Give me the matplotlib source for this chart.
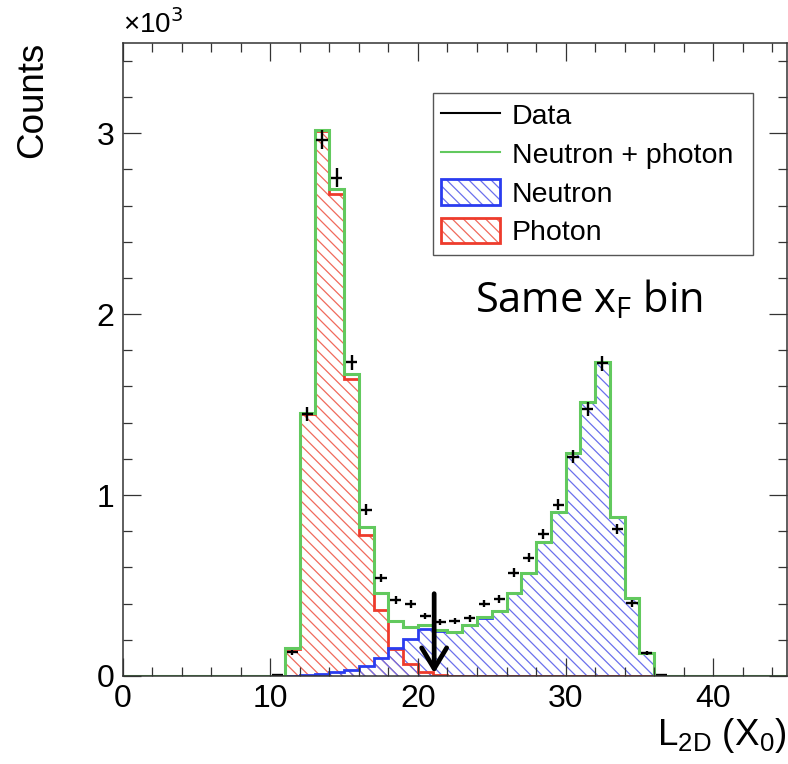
import numpy as np
import matplotlib.pyplot as plt
from matplotlib.lines import Line2D
from matplotlib.patches import Patch
from matplotlib.ticker import MultipleLocator, FuncFormatter

plt.rcParams['font.family'] = ['Liberation Sans', 'DejaVu Sans']
plt.rcParams['hatch.linewidth'] = 0.9

# Histogram values (bins of width 1 in L2D, X0 units)
first_bin = 11
photon = [150, 1450, 3010, 2664, 1641, 780, 365, 150, 68, 22, 5,
          0, 0, 0, 0, 0, 0, 0, 0, 0, 0, 0, 0, 0, 0]
neutron = [2, 5, 10, 20, 33, 55, 98, 153, 205, 260, 250, 245, 282, 322,
           361, 457, 571, 743, 909, 1231, 1517, 1735, 877, 433, 129]
total = [153, 1454, 3019, 2691, 1670, 826, 457, 305, 268, 282, 254, 245,
         282, 324, 361, 457, 571, 743, 909, 1231, 1517, 1735, 877, 433, 129]

data_first_bin = 10
data = [3, 130, 1450, 2965, 2754, 1733, 918, 540, 420, 398, 332, 300, 303,
        318, 400, 425, 571, 654, 785, 946, 1213, 1475, 1729, 811, 402, 129, 3]

cut_x = 21.1  # arrow position

red = '#ee3b2c'
red_hatch = '#f06a5c'
blue = '#2a3cf0'
blue_hatch = '#6b70ec'
green = '#62c95e'
hatch = '\\\\\\'

edges = np.arange(first_bin, first_bin + len(photon) + 1)
full_edges = np.arange(0, 46)
total_full = np.zeros(45)
total_full[first_bin:first_bin + len(total)] = total
data_x = np.arange(data_first_bin, data_first_bin + len(data)) + 0.5
data = np.array(data, dtype=float)

fig = plt.figure(figsize=(7.88, 7.64), dpi=100)
ax = fig.add_axes([0.1557, 0.1152, 0.8430, 0.8289])

# hatched fills
ax.stairs(photon, edges, baseline=0, fill=True, facecolor='none',
          edgecolor=red_hatch, linewidth=0, hatch=hatch)
ax.stairs(neutron, edges, baseline=0, fill=True, facecolor='none',
          edgecolor=blue_hatch, linewidth=0, hatch=hatch)
# outlines
ax.stairs(photon, edges, baseline=0, color=red, linewidth=2)
ax.stairs(neutron, edges, baseline=0, color=blue, linewidth=2)
ax.stairs(total_full, full_edges, baseline=None, color=green, linewidth=2.2)

# data points
ax.errorbar(data_x, data, xerr=0.38, yerr=np.sqrt(data), fmt='none',
            ecolor='black', elinewidth=1.7, capsize=0)

# cut arrow
ax.annotate('', xy=(cut_x, 15), xytext=(cut_x, 455),
            arrowprops=dict(arrowstyle='->,head_length=0.75,head_width=0.45',
                            lw=3.4, color='black', mutation_scale=20,
                            shrinkA=0, shrinkB=0))

ax.set_xlim(0, 45)
ax.set_ylim(0, 3500)

ax.xaxis.set_major_locator(MultipleLocator(10))
ax.xaxis.set_minor_locator(MultipleLocator(2))
ax.yaxis.set_major_locator(MultipleLocator(1000))
ax.yaxis.set_minor_locator(MultipleLocator(200))
ax.yaxis.set_major_formatter(FuncFormatter(lambda v, p: f'{v / 1000:g}'))

ax.tick_params(which='both', direction='in', top=True, right=True,
               color='#333333', width=0.9)
ax.tick_params(which='major', length=13, labelsize=23, pad=6)
ax.tick_params(which='minor', length=6.5)
for s in ax.spines.values():
    s.set_color('#333333')
    s.set_linewidth(1.1)

ax.text(0.0, 1.006, '×10$^{3}$', transform=ax.transAxes, fontsize=20,
        ha='left', va='bottom')
fig.text(0.042, 0.946, 'Counts', rotation=90, fontsize=26.5, ha='center', va='top')
fig.text(0.998, 0.025, 'L$_\\mathregular{2D}$ (X$_\\mathregular{0}$)',
         fontsize=26.5, ha='right', va='baseline')

ax.text(0.530, 0.574, 'Same x$_\\mathregular{F}$ bin', transform=ax.transAxes,
        fontsize=30, family='Open Sans', ha='left', va='baseline')

handles = [
    Line2D([], [], color='black', lw=1.5),
    Line2D([], [], color=green, lw=1.5),
    (Patch(facecolor='none', edgecolor=blue_hatch, lw=0, hatch=hatch),
     Patch(facecolor='none', edgecolor=blue, lw=2)),
    (Patch(facecolor='none', edgecolor=red_hatch, lw=0, hatch=hatch),
     Patch(facecolor='none', edgecolor=red, lw=2)),
]
labels = ['Data', 'Neutron + photon', 'Neutron', 'Photon']
leg = ax.legend(handles, labels, loc='upper left',
                bbox_to_anchor=(0.467, 0.9206, 0.482, 0.0), mode='expand',
                borderaxespad=0, borderpad=0.3, fontsize=20.5,
                handlelength=2.05, handleheight=1.0, handletextpad=0.42,
                labelspacing=0.36, fancybox=False, framealpha=1,
                edgecolor='#555555')
leg.get_frame().set_linewidth(1.0)

fig.savefig('out.png', dpi=100)
